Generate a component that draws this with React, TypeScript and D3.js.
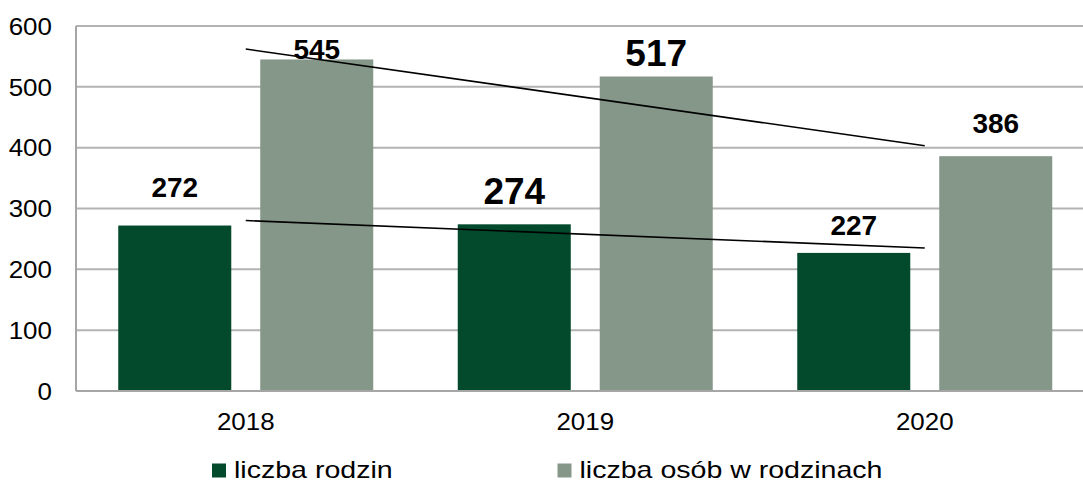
import React from "react";
import * as d3 from "d3";

const width = 1083;
const height = 482;

const years = ["2018", "2019", "2020"];
const seriesNames = ["liczba rodzin", "liczba osób w rodzinach"];
const families = [272, 274, 227];
const persons = [545, 517, 386];
const yTicks = [0, 100, 200, 300, 400, 500, 600];

const colors = ["#024a2b", "#859789"];
const font = "'Liberation Sans', Arial, Helvetica, sans-serif";

// labels were nudged by hand in the original, so lift each one separately
const labelLift = [
  [29, 0],
  [20, 10],
  [18, 23]
];
const labelSize = [28, 37, 28];

const margin = { top: 26, left: 76, bottom: 91 };

// least squares line over the year index, like a spreadsheet trendline
function trend(values: number[]) {
  const xs = values.map((_, i) => i);
  const mx = d3.mean(xs) as number;
  const my = d3.mean(values) as number;
  const slope =
    d3.sum(xs, (x, i) => (x - mx) * (values[i] - my)) /
    d3.sum(xs, x => (x - mx) * (x - mx));
  return (i: number) => my + slope * (i - mx);
}

export default function App() {
  const series = [families, persons];

  const x0 = d3
    .scaleBand<string>()
    .domain(years)
    .range([margin.left, margin.left + 3 * 339.5]);

  const x1 = d3
    .scaleBand<number>()
    .domain([0, 1])
    .range([42.25, x0.bandwidth() - 42.25])
    .paddingInner(0.204);

  const y = d3
    .scaleLinear()
    .domain([0, 600])
    .range([height - margin.bottom, margin.top]);

  const plotRight = x0.range()[1];

  const line = d3
    .line<[number, number]>()
    .x(d => d[0])
    .y(d => d[1]);

  return (
    <svg width={width} height={height} style={{ display: "block" }}>
      <style>{`body { margin: 0; }`}</style>
      <rect width={width} height={height} fill="#fff" />

      {yTicks.map(t => (
        <g key={t}>
          {t > 0 && (
            <line
              x1={margin.left}
              x2={plotRight}
              y1={y(t)}
              y2={y(t)}
              stroke="#b3b3b3"
              strokeWidth={2}
            />
          )}
          <text
            transform={`translate(52,${y(t)}) scale(1.06,1)`}
            dy="0.36em"
            textAnchor="end"
            fontFamily={font}
            fontSize={24.5}
            fill="#000"
          >
            {t}
          </text>
        </g>
      ))}

      {years.map((yr, i) => (
        <g key={yr} transform={`translate(${x0(yr)},0)`}>
          {series.map((vals, s) => (
            <rect
              key={s}
              x={x1(s)}
              y={y(vals[i])}
              width={x1.bandwidth()}
              height={y(0) - y(vals[i])}
              fill={colors[s]}
            />
          ))}
          <text
            transform={`translate(${x0.bandwidth() / 2},${y(0) + 39}) scale(1.08,1)`}
            textAnchor="middle"
            fontFamily={font}
            fontSize={24}
          >
            {yr}
          </text>
        </g>
      ))}

      <line
        x1={margin.left}
        x2={margin.left}
        y1={margin.top}
        y2={y(0)}
        stroke="#a6a6a6"
        strokeWidth={2}
      />
      <line
        x1={margin.left}
        x2={plotRight}
        y1={y(0)}
        y2={y(0)}
        stroke="#a6a6a6"
        strokeWidth={2}
      />

      {series.map((vals, s) => {
        const f = trend(vals);
        const last = years.length - 1;
        const pts: [number, number][] = [
          [(x0(years[0]) as number) + x0.bandwidth() / 2, y(f(0))],
          [(x0(years[last]) as number) + x0.bandwidth() / 2, y(f(last))]
        ];
        return (
          <path
            key={s}
            d={line(pts) as string}
            fill="none"
            stroke="#000"
            strokeWidth={1.6}
          />
        );
      })}

      {years.map((yr, i) =>
        series.map((vals, s) => (
          <text
            key={yr + s}
            x={(x0(yr) as number) + (x1(s) as number) + x1.bandwidth() / 2}
            y={y(vals[i]) - labelLift[i][s]}
            textAnchor="middle"
            fontFamily={font}
            fontWeight="bold"
            fontSize={labelSize[i]}
            fill="#000"
          >
            {vals[i]}
          </text>
        ))
      )}

      {seriesNames.map((name, s) => {
        const lx = [212, 557.5][s];
        return (
          <g key={name}>
            <rect x={lx} y={463.5} width={14} height={14} fill={colors[s]} />
            {/* the legend font is stretched sideways in the original */}
            <text
              transform={`translate(${lx + 22},477.5) scale(1.19,1)`}
              fontFamily={font}
              fontSize={24}
            >
              {name}
            </text>
          </g>
        );
      })}
    </svg>
  );
}
